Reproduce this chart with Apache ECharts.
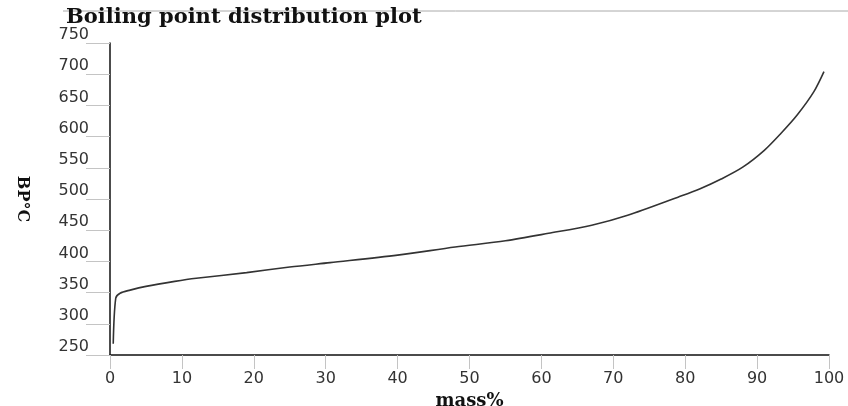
<!DOCTYPE html>
<html>
<head>
<meta charset="utf-8">
<script src="https://cdn.jsdelivr.net/npm/echarts@6/dist/echarts.min.js"></script>
<style>
  html, body { margin: 0; padding: 0; background: #fff; }
  #chart { width: 848px; height: 406px; }
</style>
</head>
<body>
<div id="chart"></div>
<script>
// mass%
const massPct = [0.45, 0.8, 1.4, 2.8, 5, 9, 12, 19, 25, 30.6, 40, 48, 55, 61, 67, 72, 79, 82, 85, 88, 91, 93.3, 95.6, 97.9, 99.3]
// boiling point, °C
const bpC = [268, 341, 349, 354, 360, 368, 373, 382, 391, 398, 410, 423, 433, 445, 458, 474, 503, 516, 532, 551, 578, 605, 635, 672, 704]

const xTicks = { min: 0, max: 100, interval: 10 }
const yTicks = { min: 250, max: 750, interval: 50 }

const chart = echarts.init(document.getElementById('chart'))

const serifBold = { fontFamily: 'DejaVu Serif', fontWeight: 'bold', color: '#111' }
const tickLabel = { fontFamily: 'DejaVu Sans', fontSize: 16, color: '#333' }

chart.setOption({
  animation: false,
  title: {
    text: 'Boiling point distribution plot',
    left: 66,
    top: 7,
    padding: 0,
    textStyle: { ...serifBold, fontSize: 21 }
  },
  graphic: [
    {
      type: 'line',
      shape: { x1: 63, y1: 11, x2: 848, y2: 11 },
      style: { stroke: '#aaa', lineWidth: 1 },
      z: -1
    }
  ],
  grid: { left: 110, right: 19, top: 43, bottom: 51, outerBoundsMode: 'none' },
  xAxis: {
    type: 'value',
    ...xTicks,
    name: 'mass%',
    nameLocation: 'middle',
    nameGap: 35,
    nameTextStyle: { ...serifBold, fontSize: 18 },
    axisLine: { show: true, lineStyle: { color: '#111', width: 1.5 } },
    axisTick: { show: true, length: 14, lineStyle: { color: '#c4c4c4' } },
    axisLabel: { ...tickLabel, margin: 16 },
    splitLine: { show: false }
  },
  yAxis: {
    type: 'value',
    ...yTicks,
    name: 'BP°C',
    nameLocation: 'middle',
    nameRotate: -90,
    nameGap: 80,
    nameTextStyle: { ...serifBold, fontSize: 16 },
    axisLine: { show: true, lineStyle: { color: '#111', width: 1.5 } },
    axisTick: { show: true, length: 24, lineStyle: { color: '#c4c4c4' } },
    axisLabel: { ...tickLabel, margin: 21, verticalAlign: 'bottom', lineHeight: 16 },
    splitLine: { show: false }
  },
  series: [
    {
      type: 'line',
      data: massPct.map((m, i) => [m, bpC[i]]),
      smooth: 0.3,
      showSymbol: false,
      lineStyle: { color: '#333', width: 1.6 }
    }
  ]
})
</script>
</body>
</html>
